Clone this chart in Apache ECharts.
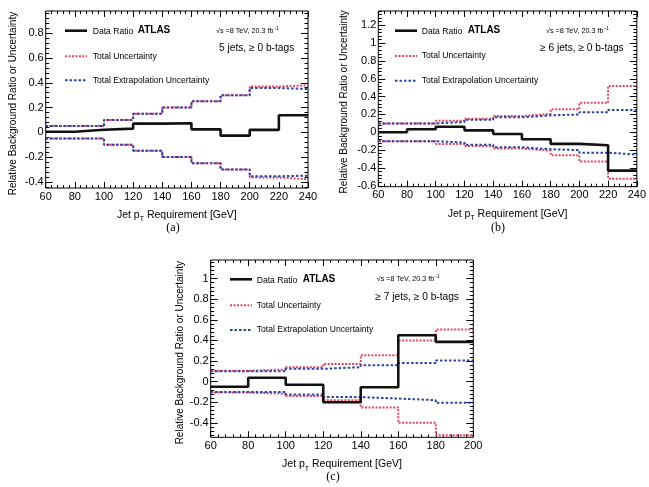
<!DOCTYPE html>
<html><head><meta charset="utf-8">
<script src="https://cdn.jsdelivr.net/npm/echarts@6/dist/echarts.min.js"></script>
<style>html,body{margin:0;padding:0;background:#fff}#c{width:649px;height:487px}</style>
</head><body><div id="c"></div>
<script>
// ---------- data ----------
const edgesAB = [60, 80, 100, 120, 140, 160, 180, 200, 220, 240];
const edgesC = [60, 80, 100, 120, 140, 160, 180, 200];

const aData = [0.005, 0.02, 0.03, 0.07, 0.073, 0.024, -0.027, 0.02, 0.138];
const aTotUp = [0.05, 0.05, 0.10, 0.15, 0.20, 0.25, 0.30, 0.37, 0.38];
const aTotDn = [-0.05, -0.05, -0.10, -0.15, -0.20, -0.25, -0.30, -0.365, -0.38];
const aExtUp = [0.05, 0.05, 0.10, 0.15, 0.20, 0.25, 0.30, 0.357, 0.35];
const aExtDn = [-0.05, -0.05, -0.10, -0.15, -0.20, -0.25, -0.30, -0.355, -0.35];

const bData = [0.0, 0.034, 0.063, 0.022, -0.019, -0.078, -0.13, -0.146, -0.43];
const bTotUp = [0.10, 0.10, 0.13, 0.153, 0.183, 0.205, 0.257, 0.33, 0.52];
const bTotDn = [-0.10, -0.10, -0.13, -0.153, -0.183, -0.205, -0.257, -0.328, -0.52];
const bExtUp = [0.10, 0.10, 0.115, 0.14, 0.168, 0.19, 0.20, 0.224, 0.25];
const bExtDn = [-0.10, -0.10, -0.115, -0.14, -0.168, -0.19, -0.20, -0.228, -0.25];

const cData = [-0.05, 0.037, -0.03, -0.20, -0.054, 0.45, 0.386];
const cTotUp = [0.105, 0.118, 0.14, 0.172, 0.257, 0.40, 0.506];
const cTotDn = [-0.106, -0.118, -0.14, -0.18, -0.25, -0.40, -0.52];
const cExtUp = [0.10, 0.10, 0.124, 0.14, 0.16, 0.18, 0.205];
const cExtDn = [-0.10, -0.10, -0.124, -0.15, -0.164, -0.18, -0.206];

const xTicksAB = [60, 80, 100, 120, 140, 160, 180, 200, 220, 240];
const xTicksC = [60, 80, 100, 120, 140, 160, 180, 200];
const yTicksA = [-0.4, -0.2, 0, 0.2, 0.4, 0.6, 0.8];
const yTicksB = [-0.6, -0.4, -0.2, 0, 0.2, 0.4, 0.6, 0.8, 1, 1.2];
const yTicksC = [-0.4, -0.2, 0, 0.2, 0.4, 0.6, 0.8, 1];

const legendLabels = ['Data Ratio', 'Total Uncertainty', 'Total Extrapolation Uncertainty'];
const panelTags = ['5 jets, \u2265 0 b-tags', '\u2265 6 jets, \u2265 0 b-tags', '\u2265 7 jets, \u2265 0 b-tags'];
const panelLetters = ['(a)', '(b)', '(c)'];

// ---------- styling / helpers ----------
const FONT = 'Liberation Sans';
const RED = '#e2455f';
const BLUE = '#2a44a8';

function minorVals(majors, min, max) {
  const step = (majors[1] - majors[0]) / 5;
  const out = [];
  const start = majors[0] - Math.ceil((majors[0] - min) / step) * step;
  for (let v = start; v <= max + 1e-9; v += step) {
    const r = Math.round(v * 1000) / 1000;
    if (r < min - 1e-9) continue;
    if (majors.some(m => Math.abs(m - r) < 1e-6)) continue;
    out.push(r);
  }
  return out;
}
function fmt(v) {
  let s = String(Math.round(v * 10) / 10);
  return s === '-0' ? '0' : s;
}
function steps(edges, vals) {
  return edges.map((e, i) => [e, vals[Math.min(i, vals.length - 1)]]);
}

const panels = [
  { grid: { left: 45.7, top: 11, width: 262.3, height: 177 }, xmin: 60, xmax: 240, ymin: -0.45, ymax: 0.98,
    xt: xTicksAB, yt: yTicksA, edges: edgesAB, data: aData, tu: aTotUp, td: aTotDn, eu: aExtUp, ed: aExtDn, yGap: 27, yPad: 8 },
  { grid: { left: 378.3, top: 11, width: 260, height: 175.7 }, xmin: 60, xmax: 240, ymin: -0.61, ymax: 1.36,
    xt: xTicksAB, yt: yTicksB, edges: edgesAB, data: bData, tu: bTotUp, td: bTotDn, eu: bExtUp, ed: bExtDn, yGap: 29, yPad: 6 },
  { grid: { left: 210.7, top: 260, width: 262.6, height: 177.3 }, xmin: 60, xmax: 200, ymin: -0.54, ymax: 1.18,
    xt: xTicksC, yt: yTicksC, edges: edgesC, data: cData, tu: cTotUp, td: cTotDn, eu: cExtUp, ed: cExtDn, yGap: 25, yPad: 8 }
];

const grids = [], xAxes = [], yAxes = [], series = [];
panels.forEach((p, gi) => {
  grids.push(Object.assign({ show: true, borderColor: '#000', borderWidth: 1, containLabel: false }, p.grid));
  const xMinor = minorVals(p.xt, p.xmin, p.xmax);
  const yMinor = minorVals(p.yt, p.ymin, p.ymax);
  const noLine = { show: false, onZero: false };
  const baseX = { type: 'value', gridIndex: gi, min: p.xmin, max: p.xmax, axisLine: noLine, splitLine: { show: false } };
  const baseY = { type: 'value', gridIndex: gi, min: p.ymin, max: p.ymax, axisLine: noLine, splitLine: { show: false } };
  const xMainIdx = xAxes.length;
  xAxes.push(Object.assign({}, baseX, {
    position: 'bottom',
    axisTick: { inside: true, length: 6, customValues: p.xt, lineStyle: { color: '#000', width: 1 } },
    axisLabel: { customValues: p.xt, margin: 3, color: '#000', fontFamily: FONT, fontSize: 11 },
    name: '{n|Jet p}{s|T}{n| Requirement [GeV]}', nameLocation: 'middle', nameGap: 19,
    nameTextStyle: { rich: { n: { fontFamily: FONT, fontSize: 10.5, color: '#000' }, s: { fontFamily: FONT, fontSize: 7, color: '#000', padding: [9, 0, 0, 0] } } }
  }));
  xAxes.push(Object.assign({}, baseX, { position: 'bottom', axisTick: { inside: true, length: 3, customValues: xMinor, lineStyle: { color: '#000' } }, axisLabel: { show: false } }));
  xAxes.push(Object.assign({}, baseX, { position: 'top', axisTick: { inside: true, length: 6, customValues: p.xt, lineStyle: { color: '#000' } }, axisLabel: { show: false } }));
  xAxes.push(Object.assign({}, baseX, { position: 'top', axisTick: { inside: true, length: 3, customValues: xMinor, lineStyle: { color: '#000' } }, axisLabel: { show: false } }));
  const yMainIdx = yAxes.length;
  yAxes.push(Object.assign({}, baseY, {
    position: 'left',
    axisTick: { inside: true, length: 7, customValues: p.yt, lineStyle: { color: '#000' } },
    axisLabel: { customValues: p.yt, margin: 2, color: '#000', fontFamily: FONT, fontSize: 11, formatter: fmt },
    name: 'Relative Background Ratio or Uncertainty', nameLocation: 'middle', nameRotate: 90, nameGap: p.yGap,
    nameTextStyle: { fontFamily: FONT, fontSize: 10, color: '#000', padding: [0, p.yPad, 0, 0] }
  }));
  yAxes.push(Object.assign({}, baseY, { position: 'left', axisTick: { inside: true, length: 3.5, customValues: yMinor, lineStyle: { color: '#000' } }, axisLabel: { show: false } }));
  yAxes.push(Object.assign({}, baseY, { position: 'right', axisTick: { inside: true, length: 7, customValues: p.yt, lineStyle: { color: '#000' } }, axisLabel: { show: false } }));
  yAxes.push(Object.assign({}, baseY, { position: 'right', axisTick: { inside: true, length: 3.5, customValues: yMinor, lineStyle: { color: '#000' } }, axisLabel: { show: false } }));

  const mk = (name, vals, color, width, type, z) => ({
    name, type: 'line', step: 'end', xAxisIndex: xMainIdx, yAxisIndex: yMainIdx,
    data: steps(p.edges, vals), symbol: 'none', z, silent: true, animation: false,
    lineStyle: { color, width, type }
  });
  series.push(mk(legendLabels[1], p.tu, RED, 2, [2, 1.5], 2));
  series.push(mk(legendLabels[1], p.td, RED, 2, [2, 1.5], 2));
  series.push(mk(legendLabels[2], p.eu, BLUE, 2, [2.5, 2], 3));
  series.push(mk(legendLabels[2], p.ed, BLUE, 2, [2.5, 2], 3));
  series.push(mk(legendLabels[0], p.data, '#111', 2.6, 'solid', 4));
});

// ---------- legends and labels (graphic) ----------
const legendPos = [
  { lx: 65, tx: 92.7, y0: 30.7, y1: 56.3, y2: 80.3, atlas: 137.7, sqrt: 216, tag: 219, tagY: 47.7, letX: 173, letY: 227.7 },
  { lx: 395, tx: 421.7, y0: 30.7, y1: 56, y2: 80.7, atlas: 467.7, sqrt: 546, tag: 540, tagY: 47.7, letX: 498, letY: 228 },
  { lx: 230, tx: 256.7, y0: 279.3, y1: 305.3, y2: 330, atlas: 302.7, sqrt: 376.7, tag: 375.3, tagY: 296.7, letX: 333, letY: 477 }
];
const graphics = [];
legendPos.forEach((L, i) => {
  const line = (y, color, width, dash) => ({ type: 'line', shape: { x1: L.lx, y1: y, x2: L.lx + 22, y2: y }, style: { stroke: color, lineWidth: width, lineDash: dash } });
  const txt = (x, y, text, size, extra) => ({ type: 'text', x, y, style: Object.assign({ text, fill: '#000', font: size + 'px "' + FONT + '"', textVerticalAlign: 'middle' }, extra || {}) });
  graphics.push(line(L.y0, '#111', 2.6, null));
  graphics.push(line(L.y1, RED, 2, [2, 1.5]));
  graphics.push(line(L.y2, BLUE, 2, [2.5, 2]));
  graphics.push(txt(L.tx, L.y0 + 1, legendLabels[0], 8.6));
  graphics.push(txt(L.tx, L.y1, legendLabels[1], 8.6));
  graphics.push(txt(L.tx, L.y2, legendLabels[2], 8.6));
  graphics.push({ type: 'text', x: L.atlas, y: L.y0, style: { text: 'ATLAS', fill: '#000', font: 'bold 10px "' + FONT + '"', textVerticalAlign: 'middle' } });
  graphics.push({ type: 'text', x: L.sqrt, y: L.y0, style: { text: '{n|\u221As =8 TeV, 20.3 fb}{s|-1}', textVerticalAlign: 'middle',
    rich: { n: { fontFamily: FONT, fontSize: 7.2, fill: '#000' }, s: { fontFamily: FONT, fontSize: 5, fill: '#000', padding: [0, 0, 5, 1] } } } });
  graphics.push(txt(L.tag, L.tagY, panelTags[i], 10.2));
  graphics.push({ type: 'text', x: L.letX, y: L.letY, style: { text: panelLetters[i], fill: '#000', font: '12px "Liberation Serif"', textAlign: 'center', textVerticalAlign: 'middle' } });
});

const chart = echarts.init(document.getElementById('c'), null, { renderer: 'canvas' });
chart.setOption({
  animation: false,
  backgroundColor: '#fff',
  grid: grids, xAxis: xAxes, yAxis: yAxes, series: series,
  graphic: graphics
});
</script></body></html>
